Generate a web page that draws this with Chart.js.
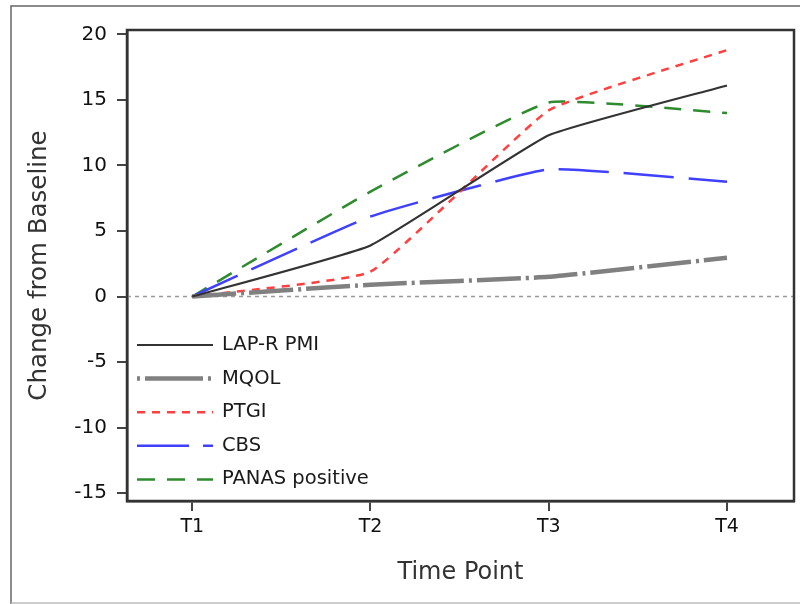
<!DOCTYPE html>
<html>
<head>
<meta charset="utf-8">
<script src="https://cdn.jsdelivr.net/npm/chart.js@4/dist/chart.umd.min.js"></script>
<style>
html,body{margin:0;padding:0;background:#fff;}
#wrap{width:800px;height:604px;}
</style>
</head>
<body>
<div id="wrap"><canvas id="c" width="800" height="604"></canvas></div>
<script>
// ---- data ----
const timeValues = [1, 2, 3, 4];
const timeLabels = ['T1', 'T2', 'T3', 'T4'];
const seriesNames = ['LAP-R PMI', 'MQOL', 'PTGI', 'CBS', 'PANAS positive'];
const lapr = [0, 3.9, 12.3, 16.1];
const mqol = [0, 0.9, 1.5, 2.95];
const ptgi = [0, 1.9, 14.2, 18.8];
const cbs = [0, 6.1, 9.7, 8.75];
const panas = [0, 8.0, 14.8, 14.0];
const yTicks = [-15, -10, -5, 0, 5, 10, 15, 20];

const FONT = "'DejaVu Sans', 'Liberation Sans', Arial, sans-serif";

function pts(arr){ return arr.map((v,i)=>({x: timeValues[i], y: v})); }

const styles = [
  {color:'#333333', width:2.2, dash:[], legendDash:[]},
  {color:'#808080', width:4.5, dash:[44,5,3,5], legendDash:[3,5,58,5,3,100]},
  {color:'#ff4040', width:2.5, dash:[8,7], legendDash:[8,7]},
  {color:'#4040ff', width:2.5, dash:[50,15], legendDash:[52,14]},
  {color:'#2e8b2e', width:2.5, dash:[17,12], legendDash:[18,12]}
];
const allSeries = [lapr, mqol, ptgi, cbs, panas];

const datasets = allSeries.map((s,i)=>({
  label: seriesNames[i],
  data: pts(s),
  borderColor: styles[i].color,
  backgroundColor: styles[i].color,
  borderWidth: styles[i].width,
  borderDash: styles[i].dash,
  pointRadius: 0,
  tension: 0.12,
  fill: false
}));

const framePlugin = {
  id: 'frame',
  beforeDatasetsDraw(chart){
    const {ctx, chartArea:a, scales:{y}} = chart;
    const y0 = y.getPixelForValue(0);
    ctx.save();
    ctx.strokeStyle = '#9a9a9a';
    ctx.lineWidth = 1.5;
    ctx.setLineDash([4,4]);
    ctx.beginPath();
    ctx.moveTo(a.left, y0);
    ctx.lineTo(a.right, y0);
    ctx.stroke();
    ctx.restore();
  },
  afterDraw(chart){
    const {ctx, chartArea:a} = chart;
    ctx.save();
    // plot frame
    ctx.strokeStyle = '#333';
    ctx.lineWidth = 2.5;
    ctx.setLineDash([]);
    ctx.strokeRect(a.left, a.top, a.right - a.left, a.bottom - a.top);
    // outer image frame
    ctx.strokeStyle = '#666';
    ctx.lineWidth = 1.5;
    ctx.beginPath();
    ctx.moveTo(801, 6); ctx.lineTo(11, 6); ctx.lineTo(11, 604);
    ctx.stroke();
    ctx.strokeStyle = '#bbb';
    ctx.beginPath();
    ctx.moveTo(11, 603); ctx.lineTo(801, 603);
    ctx.stroke();
    // legend inside plot
    const x0 = a.left + 10, x1 = a.left + 86, tx = a.left + 95;
    const rowY0 = 345, rowStep = 33.6;
    chart.data.datasets.forEach((ds, i)=>{
      const yy = rowY0 + i*rowStep;
      ctx.strokeStyle = ds.borderColor;
      ctx.lineWidth = ds.borderWidth;
      ctx.setLineDash(styles[i].legendDash);
      ctx.beginPath();
      ctx.moveTo(x0, yy); ctx.lineTo(x1, yy);
      ctx.stroke();
      ctx.setLineDash([]);
      ctx.fillStyle = '#1a1a1a';
      ctx.font = '19.5px ' + FONT;
      ctx.textBaseline = 'middle';
      ctx.textAlign = 'left';
      ctx.fillText(ds.label, tx, yy);
    });
    ctx.restore();
  }
};

new Chart(document.getElementById('c'), {
  type: 'line',
  data: { datasets },
  plugins: [framePlugin],
  options: {
    responsive: false,
    animation: false,
    layout: { padding: { left: 0, top: 30, right: 6, bottom: 0 } },
    plugins: { legend: { display: false }, tooltip: { enabled: false } },
    scales: {
      x: {
        type: 'linear',
        min: 0.634,
        max: 4.376,
        afterBuildTicks(scale){ scale.ticks = timeValues.map(v=>({value:v})); },
        afterFit(scale){ scale.height = 103; },
        ticks: {
          callback: (v)=>{ const i = timeValues.indexOf(v); return i >= 0 ? timeLabels[i] : ''; },
          font: { family: FONT, size: 19 },
          color: '#111',
          padding: 5,
          maxRotation: 0,
          autoSkip: false
        },
        grid: { drawOnChartArea: false, drawTicks: true, tickLength: 10, color: '#444', lineWidth: 2 },
        border: { display: true, color: '#333', width: 2.5 },
        title: { display: true, text: 'Time Point', font: { family: FONT, size: 24 }, color: '#333', padding: { top: 0, bottom: 17 } }
      },
      y: {
        type: 'linear',
        min: -15.6,
        max: 20.33,
        afterBuildTicks(scale){ scale.ticks = yTicks.map(v=>({value:v})); },
        afterFit(scale){ scale.width = 127; },
        ticks: {
          font: { family: FONT, size: 20 },
          color: '#111',
          padding: 10
        },
        grid: { drawOnChartArea: false, drawTicks: true, tickLength: 10, color: '#444', lineWidth: 2 },
        border: { display: true, color: '#333', width: 2.5 },
        title: { display: true, text: 'Change from Baseline', font: { family: FONT, size: 24.5 }, color: '#333', padding: { top: 25, bottom: 0 } }
      }
    }
  }
});
</script>
</body>
</html>
